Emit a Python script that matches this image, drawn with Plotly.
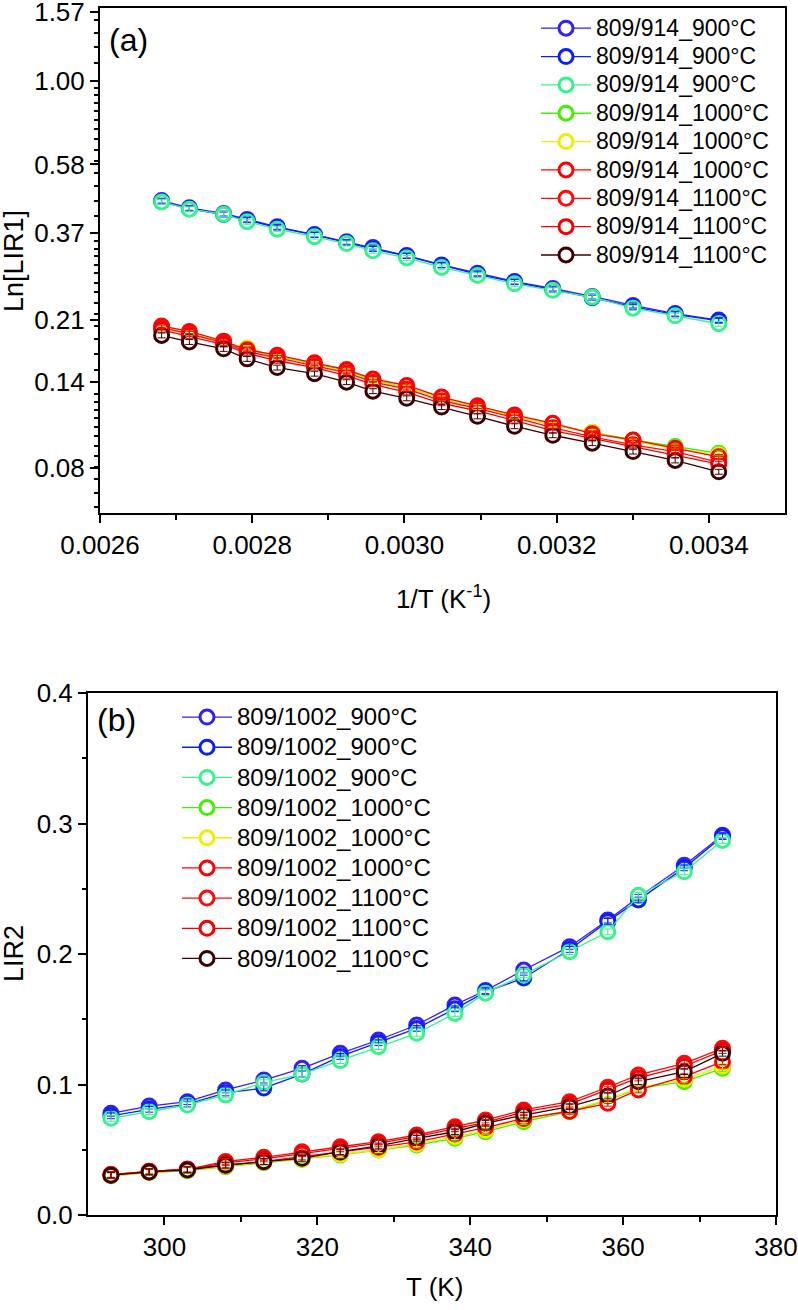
import math
import plotly.graph_objects as go

# ---------------- data ----------------
T_a = [373, 368, 362, 358, 353, 347, 342, 338, 333, 328, 323, 318, 313, 308, 303, 298, 293]
invT_a = [1.0 / t for t in T_a]

names_a = ["809/914_900°C", "809/914_900°C", "809/914_900°C",
           "809/914_1000°C", "809/914_1000°C", "809/914_1000°C",
           "809/914_1100°C", "809/914_1100°C", "809/914_1100°C"]

a_900_1 = [0.458, 0.437, 0.421, 0.405, 0.386, 0.367, 0.350, 0.337, 0.320, 0.301, 0.285, 0.270, 0.258, 0.245, 0.231, 0.219, 0.210]
a_900_2 = [0.455, 0.434, 0.418, 0.403, 0.384, 0.366, 0.348, 0.334, 0.319, 0.300, 0.283, 0.269, 0.256, 0.243, 0.229, 0.218, 0.209]
a_900_3 = [0.454, 0.433, 0.419, 0.399, 0.380, 0.362, 0.346, 0.330, 0.315, 0.296, 0.281, 0.266, 0.255, 0.244, 0.227, 0.216, 0.205]
a_1000_1 = [0.199, 0.193, 0.181, 0.174, 0.165, 0.158, 0.151, 0.142, 0.135, 0.126, 0.119, 0.112, 0.106, 0.101, 0.096, 0.092, 0.088]
a_1000_2 = [0.199, 0.192, 0.181, 0.175, 0.165, 0.157, 0.150, 0.141, 0.135, 0.126, 0.119, 0.112, 0.106, 0.101, 0.095, 0.091, 0.087]
a_1000_3 = [0.202, 0.195, 0.183, 0.173, 0.167, 0.159, 0.152, 0.143, 0.137, 0.127, 0.120, 0.113, 0.107, 0.100, 0.096, 0.091, 0.086]
a_1100_1 = [0.200, 0.192, 0.181, 0.171, 0.164, 0.156, 0.149, 0.140, 0.134, 0.124, 0.118, 0.111, 0.104, 0.098, 0.093, 0.089, 0.083]
a_1100_2 = [0.197, 0.189, 0.179, 0.169, 0.161, 0.154, 0.146, 0.138, 0.131, 0.122, 0.116, 0.109, 0.102, 0.097, 0.092, 0.087, 0.082]
a_1100_3 = [0.190, 0.182, 0.174, 0.163, 0.154, 0.148, 0.140, 0.132, 0.126, 0.119, 0.112, 0.105, 0.099, 0.094, 0.089, 0.084, 0.078]
series_a = [a_900_1, a_900_2, a_900_3, a_1000_1, a_1000_2, a_1000_3, a_1100_1, a_1100_2, a_1100_3]

T_b = [293, 298, 303, 308, 313, 318, 323, 328, 333, 338, 342, 347, 353, 358, 362, 368, 373]
names_b = ["809/1002_900°C", "809/1002_900°C", "809/1002_900°C",
           "809/1002_1000°C", "809/1002_1000°C", "809/1002_1000°C",
           "809/1002_1100°C", "809/1002_1100°C", "809/1002_1100°C"]

b_900_1 = [0.0779, 0.0835, 0.0868, 0.0958, 0.1034, 0.1124, 0.1239, 0.1341, 0.1456, 0.1610, 0.1720, 0.1877, 0.2056, 0.2260, 0.2435, 0.2680, 0.2910]
b_900_2 = [0.0760, 0.0810, 0.0850, 0.0935, 0.0973, 0.1080, 0.1215, 0.1320, 0.1430, 0.1580, 0.1710, 0.1816, 0.2035, 0.2250, 0.2414, 0.2660, 0.2900]
b_900_3 = [0.0741, 0.0792, 0.0843, 0.0920, 0.1014, 0.1080, 0.1183, 0.1290, 0.1392, 0.1545, 0.1700, 0.1840, 0.2018, 0.2170, 0.2450, 0.2630, 0.2870]
b_1000_1 = [0.0300, 0.0325, 0.0340, 0.0370, 0.0400, 0.0425, 0.0460, 0.0498, 0.0536, 0.0588, 0.0638, 0.0715, 0.0792, 0.0880, 0.0970, 0.1022, 0.1124]
b_1000_2 = [0.0300, 0.0330, 0.0345, 0.0375, 0.0405, 0.0430, 0.0465, 0.0500, 0.0545, 0.0600, 0.0650, 0.0730, 0.0800, 0.0885, 0.0975, 0.1040, 0.1140]
b_1000_3 = [0.0305, 0.0330, 0.0350, 0.0380, 0.0410, 0.0445, 0.0480, 0.0520, 0.0560, 0.0620, 0.0670, 0.0740, 0.0795, 0.0856, 0.0958, 0.1060, 0.1175]
b_1100_1 = [0.0310, 0.0335, 0.0350, 0.0410, 0.0442, 0.0485, 0.0523, 0.0562, 0.0613, 0.0677, 0.0728, 0.0805, 0.0868, 0.0979, 0.1073, 0.1162, 0.1277]
b_1100_2 = [0.0310, 0.0335, 0.0350, 0.0400, 0.0430, 0.0470, 0.0510, 0.0550, 0.0600, 0.0660, 0.0710, 0.0790, 0.0850, 0.0960, 0.1050, 0.1140, 0.1260]
b_1100_3 = [0.0305, 0.0330, 0.0345, 0.0383, 0.0409, 0.0434, 0.0485, 0.0529, 0.0588, 0.0638, 0.0703, 0.0766, 0.0830, 0.0912, 0.1022, 0.1098, 0.1239]
series_b = [b_900_1, b_900_2, b_900_3, b_1000_1, b_1000_2, b_1000_3, b_1100_1, b_1100_2, b_1100_3]

ytick_vals_a = [0.08, 0.14, 0.21, 0.37, 0.58, 1.00, 1.57]
ytick_text_a = ["0.08", "0.14", "0.21", "0.37", "0.58", "1.00", "1.57"]

# ---------------- style ----------------
colors = ["#3320F5", "#0A1EFF", "#35F28A", "#40F000", "#EEEE00",
          "#FF0000", "#FF0A0A", "#F50000", "#3C0000"]
FONT = "Liberation Sans, Arial, sans-serif"
W, H = 798, 1310

fig = go.Figure()


def add_panel(xs, ylist, names, xa, ya, legend, err, label_px):
    for y, n, c in zip(ylist, names, colors):
        fig.add_trace(go.Scatter(
            x=xs, y=y, name='<span style="font-size:%dpx">%s</span>' % (label_px, n),
            mode="lines+markers", xaxis=xa, yaxis=ya, legend=legend,
            line=dict(color=c, width=1.3),
            marker=dict(symbol="circle", size=14, color="white", line=dict(color=c, width=3)),
        ))
    for y, c in zip(ylist, colors):
        fig.add_trace(go.Scatter(
            x=xs, y=y, mode="markers", xaxis=xa, yaxis=ya, showlegend=False, hoverinfo="skip",
            marker=dict(size=2, opacity=0, color=c),
            error_y=dict(color=c, thickness=1, width=4, **err),
        ))


add_panel(invT_a, series_a, names_a, "x", "y", "legend", dict(type="percent", value=1.6), 23)
add_panel(T_b, series_b, names_b, "x2", "y2", "legend2", dict(type="constant", value=0.0022), 24)

# minor ticks for the ln-scale axis (linear subdivisions of each e-decade)
minor_a = []
for n in range(-3, 1):
    lo, hi = math.exp(n), math.exp(n + 1)
    for k in range(1, 14):
        v = lo + k * (hi - lo) / 14
        if 0.06 < v < 1.6:
            minor_a.append(v)

axis_common = dict(showline=True, linecolor="black", linewidth=2, mirror=True,
                   ticks="outside", tickcolor="black", tickwidth=2, ticklen=8,
                   showgrid=False, zeroline=False, automargin=False,
                   ticklabeloverflow="allow",
                   tickfont=dict(family=FONT, size=26, color="black"))

yl_a = (1 - 513 / H, 1 - 8 / H)
yl_b = (1 - 1215 / H, 1 - 693 / H)

fig.update_layout(
    width=W, height=H, margin=dict(l=0, r=0, t=0, b=0, autoexpand=False),
    paper_bgcolor="white", plot_bgcolor="white",
    font=dict(family=FONT, color="black"),
    xaxis=dict(domain=[100 / W, 785 / W], range=[0.0026, 0.0035], anchor="y",
               tickvals=[0.0026, 0.0028, 0.0030, 0.0032, 0.0034],
               ticktext=["0.0026", "0.0028", "0.0030", "0.0032", "0.0034"],
               minor=dict(tickvals=[0.0027, 0.0029, 0.0031, 0.0033], ticks="outside",
                          ticklen=5, tickwidth=1.5, tickcolor="black"),
               **axis_common),
    yaxis=dict(domain=list(yl_a), type="log", anchor="x",
               range=[math.log10(0.0596), math.log10(1.61)],
               tickvals=ytick_vals_a, ticktext=ytick_text_a,
               minor=dict(tickvals=minor_a, ticks="outside", ticklen=4,
                          tickwidth=1.5, tickcolor="black"),
               **axis_common),
    xaxis2=dict(domain=[88 / W, 776 / W], range=[290, 380], anchor="y2",
                tickvals=[300, 320, 340, 360, 380],
                minor=dict(tickvals=[310, 330, 350, 370], ticks="outside",
                           ticklen=5, tickwidth=1.5, tickcolor="black"),
                **axis_common),
    yaxis2=dict(domain=list(yl_b), range=[0, 0.4], anchor="x2",
                tickvals=[0.0, 0.1, 0.2, 0.3, 0.4],
                ticktext=["0.0", "0.1", "0.2", "0.3", "0.4"],
                minor=dict(tickvals=[0.05, 0.15, 0.25, 0.35], ticks="outside",
                           ticklen=4, tickwidth=1.5, tickcolor="black"),
                **axis_common),
    legend=dict(x=536 / W, y=1 - 9 / H, xanchor="left", yanchor="top",
                bgcolor="rgba(0,0,0,0)", borderwidth=0, itemwidth=50,
                font=dict(family=FONT, size=19.5, color="black"), tracegroupgap=0),
    legend2=dict(x=177 / W, y=1 - 697 / H, xanchor="left", yanchor="top",
                 bgcolor="rgba(0,0,0,0)", borderwidth=0, itemwidth=50,
                 font=dict(family=FONT, size=20.9, color="black"), tracegroupgap=0),
    showlegend=True,
)

ann = [
    ("(a)", 128, 40, 0, 32),
    ("(b)", 116, 720, 0, 32),
    ("Ln[LIR1]", 14, 261, -90, 27),
    ("1/T (K<sup>-1</sup>)", 443, 597, 0, 26),
    ("LIR2", 14, 954, -90, 27),
    ("T (K)", 434, 1287, 0, 26),
]
for text, px, py, ang, size in ann:
    fig.add_annotation(xref="paper", yref="paper", showarrow=False,
                       xanchor="center", yanchor="middle", text=text,
                       x=px / W, y=1 - py / H, textangle=ang,
                       font=dict(family=FONT, color="black", size=size))

fig.write_html("out.html")
